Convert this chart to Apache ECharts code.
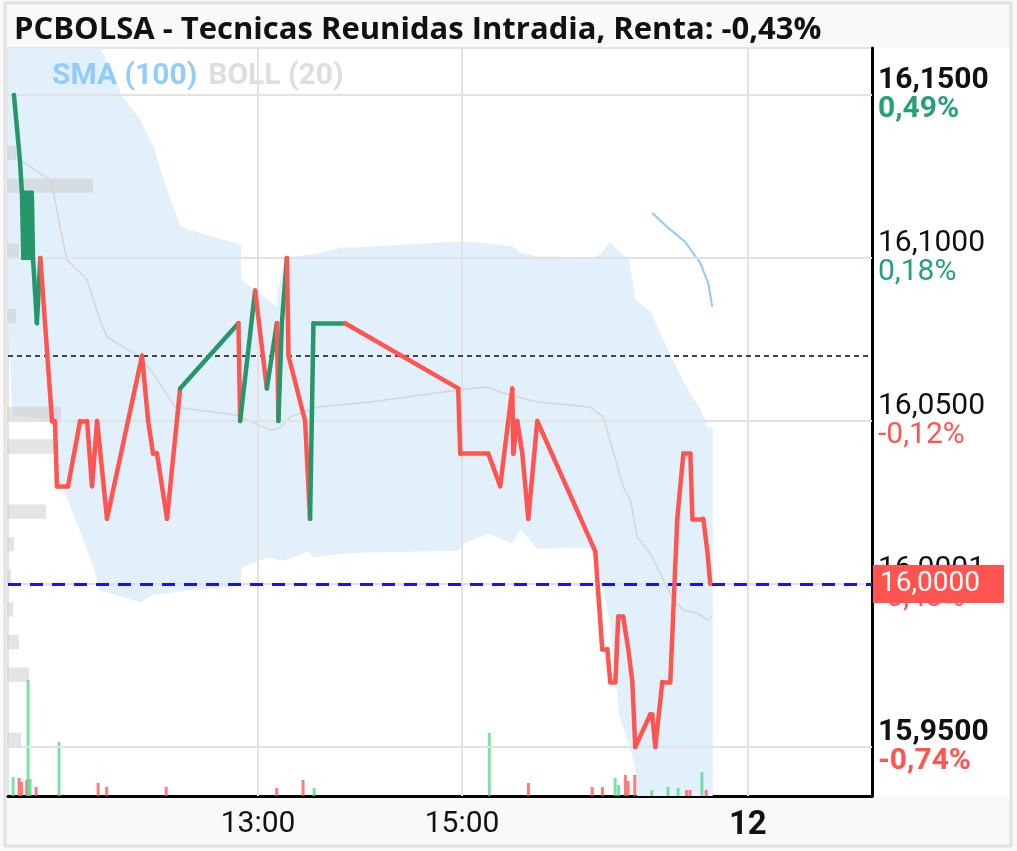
<!DOCTYPE html>
<html>
<head>
<meta charset="utf-8">
<script src="https://cdn.jsdelivr.net/npm/echarts@6/dist/echarts.min.js"></script>
<style>
html,body{margin:0;padding:0;background:#fff;}
#chart{width:1017px;height:851px;}
</style>
</head>
<body>
<div id="chart"></div>
<script>
// ---------- DATA ----------
// x values are minutes on the (compressed) intraday trading-time axis
const titleText = 'PCBOLSA - Tecnicas Reunidas Intradia, Renta: -0,43%';

const xTickValues = [780, 900, 1068];
const xTickLabels = ['13:00', '15:00', '12'];
const xTickBold   = [false, false, true];

const yTickValues = [16.15, 16.10, 16.05, 16.00, 15.95];
const yTickPrice  = ['16,1500', '16,1000', '16,0500', '16,0001', '15,9500'];
const yTickPct    = ['0,49%', '0,18%', '-0,12%', '-0,43%', '-0,74%'];
const yTickBold   = [true, false, false, false, true];

const priceTime = [636.5, 640.0, 641.2, 642.0, 643.0, 644.0, 645.0, 646.0, 647.0, 647.7, 650.0, 652.0,
  658.9, 660.6, 661.8, 668.3, 675.4, 679.5, 682.4, 685.4, 691.2, 711.8, 715.4, 718.3, 720.6, 726.5, 734.2,
  768.5, 769.5, 778.3, 785.2, 791.1, 792.0, 794.0, 797.0, 797.9, 807.7, 810.6, 812.6, 831.2,
  897.7, 898.9, 915.4, 922.4, 929.5, 930.1, 932.4, 935.4, 938.9, 944.2, 978.3, 982.4, 985.4, 987.1,
  990.1, 991.8, 994.7, 997.7, 1000.1, 1001.8, 1010.6, 1011.8, 1013.6, 1017.7, 1022.4, 1026.5, 1030.1,
  1034.2, 1035.4, 1041.8, 1044.2, 1045.9];
const priceValue = [16.15, 16.13, 16.12, 16.10, 16.12, 16.10, 16.12, 16.10, 16.12, 16.10, 16.08, 16.10,
  16.05, 16.05, 16.03, 16.03, 16.05, 16.05, 16.03, 16.05, 16.02, 16.07, 16.05, 16.04, 16.04, 16.02, 16.06,
  16.08, 16.05, 16.09, 16.06, 16.08, 16.05, 16.08, 16.10, 16.07, 16.05, 16.02, 16.08, 16.08,
  16.06, 16.04, 16.04, 16.03, 16.06, 16.04, 16.05, 16.04, 16.02, 16.05, 16.01, 15.98, 15.98, 15.97,
  15.97, 15.99, 15.99, 15.98, 15.97, 15.95, 15.96, 15.96, 15.95, 15.97, 15.97, 16.02, 16.04,
  16.04, 16.02, 16.02, 16.01, 16.00];
// colour of the segment that ends at each point (U = green, D = red)
const priceDir = ['-', 'U','U','U','U','U','U','U','U','U','U','U',
  'D','D','D','D','D','D','D','D','D','D','D','D','D','D','D',
  'U','D','U','D','U','D','U','U','D','D','D','U','U',
  'D','D','D','D','D','D','D','D','D','D','D','D','D','D',
  'D','D','D','D','D','D','D','D','D','D','D','D','D',
  'D','D','D','D','D'];

const bollTime = [633.0, 635.9, 651.8, 661.8, 663.6, 665.4, 675.4, 684.2, 687.1, 700.1,
  710.6, 718.3, 724.2, 734.2, 745.9, 769.5, 770.1, 785.4, 791.2, 791.8,
  795.9, 810.8, 812.0, 830.1, 840.1, 897.7, 900.6, 915.4, 929.5, 934.2,
  944.2, 957.7, 977.1, 981.2, 987.1, 991.2, 992.9, 997.6, 1001.8, 1003.5,
  1010.6, 1020.6, 1030.1, 1040.0, 1044.2, 1047.1];
const bollUpper = [16.173, 16.1715, 16.168, 16.167, 16.1666, 16.1663, 16.1653, 16.1647, 16.1644, 16.1494,
  16.1423, 16.134, 16.1239, 16.1095, 16.1074, 16.104, 16.0933, 16.0871, 16.0847, 16.0893,
  16.10, 16.1009, 16.1009, 16.1031, 16.1031, 16.1049, 16.1049, 16.1043, 16.1034, 16.1015,
  16.1003, 16.1003, 16.10, 16.1009, 16.1046, 16.1025, 16.1012, 16.10, 16.0871, 16.0862,
  16.0834, 16.0718, 16.0617, 16.0534, 16.0479, 16.0479];
const bollLower = [16.0831, 16.0518, 16.0509, 16.0503, 16.031, 16.0298, 16.0166, 16.0043, 15.9982, 15.9963,
  15.9945, 15.9969, 15.9972, 15.9979, 15.9985, 15.9997, 16.0052, 16.0083, 16.0077, 16.0074,
  16.0074, 16.0104, 16.0083, 16.0095, 16.0098, 16.0104, 16.0126, 16.0156, 16.0126, 16.0172,
  16.011, 16.0113, 16.0113, 16.0034, 15.989, 15.9675, 15.9592, 15.9521, 15.9445, 15.9347,
  15.9245, 15.9153, 15.9092, 15.9031, 15.900, 15.900];

const midTime = [636.5, 640.1, 657.7, 659.5, 663.6, 667.7, 679.5, 687.1, 691.2, 710.6,
  718.3, 731.2, 767.7, 787.1, 793.0, 798.9, 814.8, 846.0, 897.7, 914.8,
  924.2, 944.2, 975.4, 983.0, 994.8, 998.9, 1003.0, 1010.6, 1024.2, 1030.1,
  1038.3, 1044.2, 1047.1];
const midValue = [16.1331, 16.1301, 16.1239, 16.1209, 16.1095, 16.0994, 16.0933, 16.081, 16.0758, 16.0696,
  16.0647, 16.0543, 16.0518, 16.0472, 16.0479, 16.0512, 16.0543, 16.0558, 16.0595, 16.0604,
  16.0586, 16.0558, 16.0543, 16.0512, 16.0298, 16.0258, 16.0144, 16.0095, 15.9951, 15.992,
  15.9911, 15.989, 15.9905];

const smaTime  = [1011.8, 1020.6, 1031.2, 1040.0, 1044.7, 1047.1];
const smaValue = [16.1138, 16.1095, 16.1049, 16.0985, 16.0923, 16.085];

const volTime = [636, 639.5, 641, 644, 644.8, 646, 649.5, 663, 686, 691,
  726, 791, 806.5, 813, 916, 939, 976.5, 982.5, 990, 992,
  996, 997.6, 1001.5, 1011.5, 1021, 1027, 1032, 1034, 1041, 1043.5];
const volValue = [1900, 1800, 1400, 1600, 11600, 1700, 900, 5400, 1300, 900,
  900, 800, 1600, 800, 6300, 1300, 900, 900, 1800, 1100,
  2100, 1500, 2100, 600, 900, 800, 600, 600, 2400, 600];
const volUp = [1,0,0,0,1,1,0,1,0,0, 0,0,0,1,1,0,0,0,1,1, 0,0,0,1,1,1,0,0,1,0];

const profilePrice  = [16.13, 16.12, 16.10, 16.08, 16.05, 16.04, 16.02, 16.01, 16.00, 15.99, 15.98, 15.97, 15.95];
const profileVolume = [800, 8500, 1100, 800, 5300, 4800, 3800, 600, 300, 500, 1100, 2100, 1300];

const prevClose = 16.07;
const lastPrice = 16.00;
const lastPriceLabel = '16,0000';

// ---------- STYLE ----------
const GREEN = '#26976a', RED = '#ff5450';
const FONT = 'Roboto';
const AXF = 30;

const chart = echarts.init(document.getElementById('chart'), null, {renderer: 'canvas'});

const segs = [];
for (let i = 1; i < priceTime.length; i++) {
  segs.push({
    coords: [[priceTime[i-1], priceValue[i-1]], [priceTime[i], priceValue[i]]],
    lineStyle: {color: priceDir[i] === 'U' ? GREEN : RED}
  });
}

function yLabel(v) {
  let idx = -1;
  yTickValues.forEach((t, i) => { if (Math.abs(t - v) < 1e-6) idx = i; });
  if (idx < 0) return '';
  const neg = yTickPct[idx].charAt(0) === '-';
  const b = yTickBold[idx];
  return '{' + (b ? 'pb' : 'p') + '|' + yTickPrice[idx] + '}\n{' + (neg ? 'r' : 'g') + (b ? 'b' : '') + '|' + yTickPct[idx] + '}';
}
function xLabel(v) {
  let idx = -1;
  xTickValues.forEach((t, i) => { if (Math.abs(t - v) < 1e-6) idx = i; });
  if (idx < 0) return '';
  return xTickBold[idx] ? '{b|' + xTickLabels[idx] + '}' : xTickLabels[idx];
}
function rs(color, bold) {
  return {fontSize: AXF, color: color, fontWeight: bold ? 'bold' : 'normal', fontFamily: FONT, lineHeight: 29};
}

const option = {
  animation: false,
  backgroundColor: '#f9f9f9',
  textStyle: {fontFamily: FONT},
  title: {
    text: titleText, left: 9, top: 5,
    textStyle: {fontFamily: 'Open Sans', fontWeight: 'bold', fontSize: 31, color: '#111', lineHeight: 40}
  },
  legend: {
    left: 42, top: 56, icon: 'none', itemWidth: 0, itemGap: 6, selectedMode: false,
    textStyle: {fontFamily: FONT, fontWeight: 'bold', fontSize: 30},
    data: [
      {name: 'SMA (100)', textStyle: {color: '#92cdf9'}},
      {name: 'BOLL (20)', textStyle: {color: '#dedede'}}
    ]
  },
  graphic: [
    {type: 'rect', z: -10, shape: {x: 7, y: 48, width: 1003, height: 748}, style: {fill: '#ffffff'}},
    {type: 'rect', z: -9, shape: {x: 5, y: 3, width: 1006, height: 843}, style: {fill: 'none', stroke: '#e2e2e2', lineWidth: 3}}
  ],
  grid: {left: 8, right: 145, top: 48, bottom: 55, show: true, backgroundColor: '#fff', borderColor: '#e4e4e4', borderWidth: 2},
  xAxis: [
    {
      type: 'value', min: 633, max: 1141,
      axisLine: {onZero: false, lineStyle: {color: '#000', width: 3}},
      axisTick: {show: false}, splitLine: {show: false},
      axisLabel: {
        customValues: xTickValues, formatter: xLabel, margin: 13,
        fontSize: AXF, color: '#111', fontFamily: FONT,
        rich: {b: {fontSize: 33, fontWeight: 'bold', color: '#111', fontFamily: FONT}}
      }
    },
    {type: 'value', min: 0, max: 86400, show: false}
  ],
  yAxis: [
    {
      type: 'value', position: 'right', min: 15.935, max: 16.1644,
      axisLine: {show: true, onZero: false, lineStyle: {color: '#000', width: 3}},
      axisTick: {show: false}, splitLine: {show: false},
      axisLabel: {
        customValues: yTickValues, formatter: yLabel, margin: 6,
        rich: {
          p: rs('#111', false), pb: rs('#111', true),
          g: rs('#26a074', false), gb: rs('#26a074', true),
          r: rs('#ff5450', false), rb: rs('#ff5450', true)
        }
      }
    },
    {type: 'value', min: 0, max: 74800, show: false}
  ],
  series: [
    {
      name: 'bollBand', type: 'custom', z: 1, silent: true, clip: true,
      encode: {x: 0, y: [1, 2]},
      data: bollTime.map((t, i) => [t, bollUpper[i], bollLower[i]]),
      renderItem: function (params, api) {
        const i = params.dataIndexInside;
        if (i >= params.dataInsideLength - 1) return;
        const pts = [
          api.coord([api.value(0, i), api.value(1, i)]),
          api.coord([api.value(0, i + 1), api.value(1, i + 1)]),
          api.coord([api.value(0, i + 1), api.value(2, i + 1)]),
          api.coord([api.value(0, i), api.value(2, i)])
        ];
        return {type: 'polygon', shape: {points: pts}, style: {fill: '#e1f0fb', stroke: '#e1f0fb', lineWidth: 1}};
      }
    },
    { // grid lines
      name: 'grid', type: 'line', data: [], z: 2, silent: true,
      markLine: {
        silent: true, symbol: ['none', 'none'], label: {show: false},
        lineStyle: {type: 'solid', color: '#e2e2e2', width: 2},
        data: yTickValues.map(v => ({yAxis: v})).concat(xTickValues.map(v => ({xAxis: v})))
      }
    },
    {
      name: 'profile', type: 'custom', xAxisIndex: 1, yAxisIndex: 0, z: 3, silent: true,
      encode: {x: 0, y: 1},
      data: profilePrice.map((p, i) => [profileVolume[i], p]),
      renderItem: function (params, api) {
        const a = api.coord([0, api.value(1) + 0.0044]);
        const b = api.coord([api.value(0), api.value(1)]);
        return {type: 'rect', shape: {x: a[0] - 1, y: a[1], width: b[0] - a[0] + 1, height: b[1] - a[1]},
          style: {fill: 'rgba(205,205,205,0.55)'}};
      }
    },
    {
      name: 'volume', type: 'bar', xAxisIndex: 0, yAxisIndex: 1, z: 3, barWidth: 3, silent: true,
      data: volTime.map((t, i) => ({value: [t, volValue[i]], itemStyle: {color: volUp[i] ? 'rgba(80,215,140,0.75)' : 'rgba(255,80,80,0.75)'}}))
    },
    {
      name: 'BOLL (20)', type: 'line', z: 4, symbol: 'none', silent: true,
      lineStyle: {color: '#d6d6d6', width: 1.5},
      itemStyle: {color: '#dedede'},
      data: midTime.map((t, i) => [t, midValue[i]])
    },
    {
      name: 'SMA (100)', type: 'line', z: 4, symbol: 'none', silent: true,
      lineStyle: {color: '#8fcaf7', width: 2},
      itemStyle: {color: '#92cdf9'},
      data: smaTime.map((t, i) => [t, smaValue[i]])
    },
    { // reference lines
      name: 'refs', type: 'line', data: [], z: 5, silent: true,
      markLine: {
        silent: true, symbol: ['none', 'none'],
        data: [
          {yAxis: prevClose, label: {show: false}, lineStyle: {color: '#444', width: 2, type: [5, 4]}},
          {yAxis: lastPrice, lineStyle: {color: '#1515f0', width: 3, type: [13, 9]},
            label: {show: true, position: 'end', distance: 1, formatter: lastPriceLabel,
              color: '#fff', backgroundColor: '#ff5450', fontSize: 28, fontFamily: FONT,
              padding: [5, 24, 5, 7], lineHeight: 28}}
        ]
      }
    },
    {
      name: 'price', type: 'lines', coordinateSystem: 'cartesian2d', z: 6, silent: true,
      lineStyle: {width: 4.5, opacity: 1, cap: 'round', join: 'round'},
      data: segs
    }
  ]
};
chart.setOption(option);
</script>
</body>
</html>
